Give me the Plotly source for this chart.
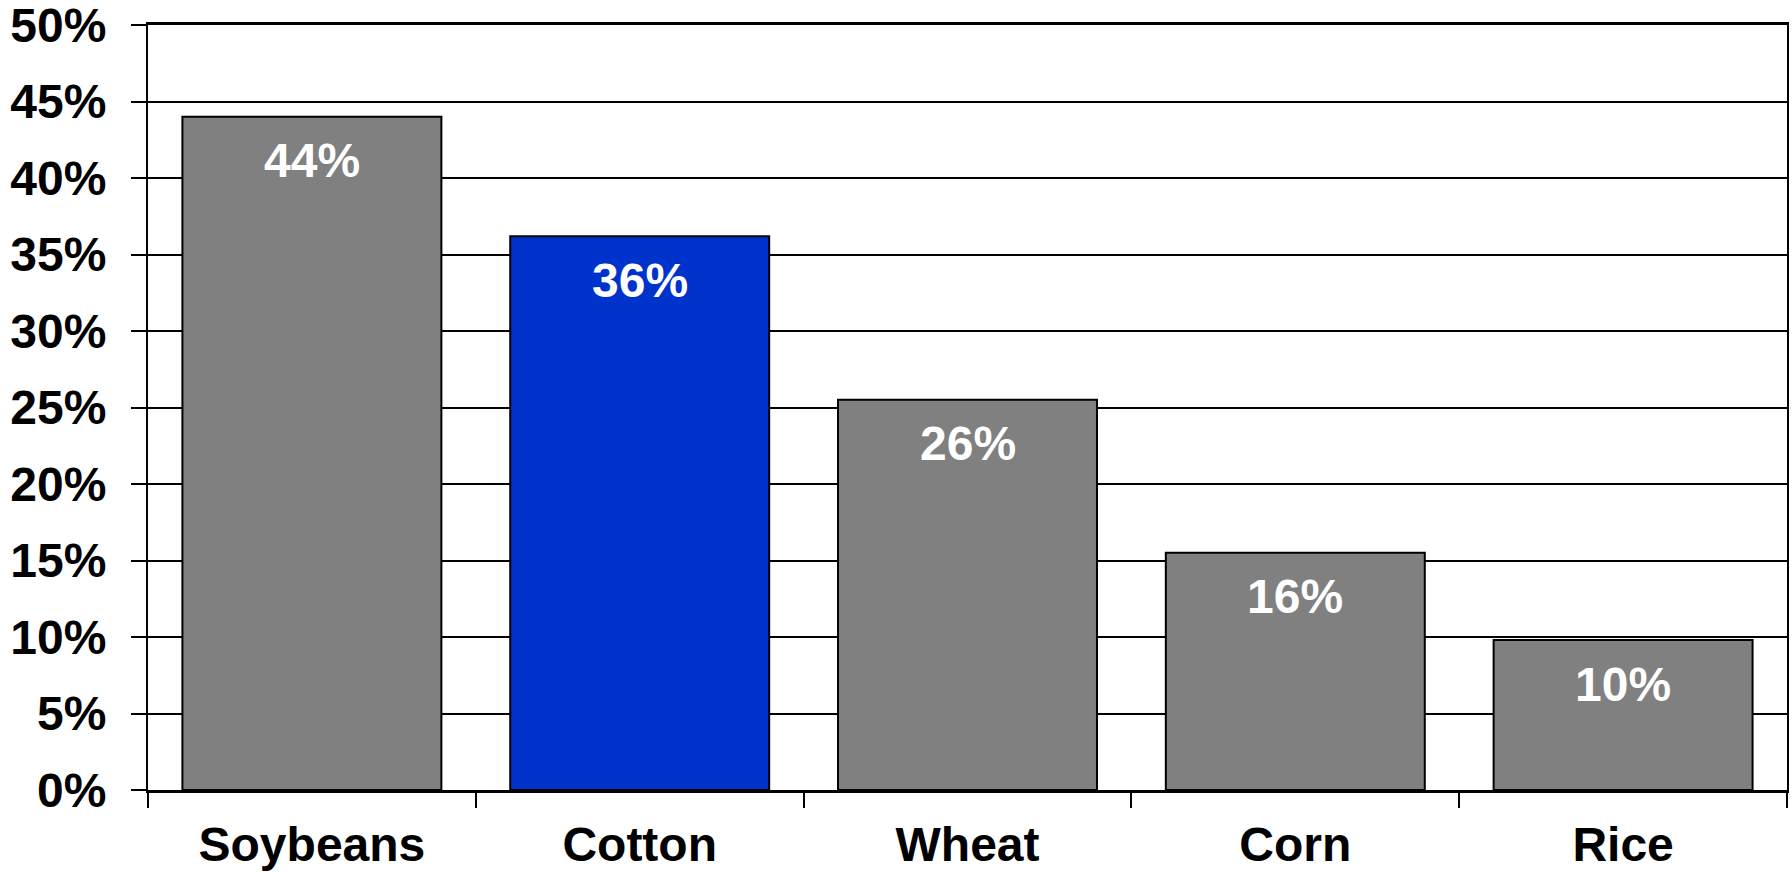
import plotly.graph_objects as go

# Share of acreage by crop (percent)
crops = ["Soybeans", "Cotton", "Wheat", "Corn", "Rice"]
shares = [44.0, 36.2, 25.5, 15.5, 9.8]
bar_colors = ["#808080", "#0033CC", "#808080", "#808080", "#808080"]
y_ticks = [0, 5, 10, 15, 20, 25, 30, 35, 40, 45, 50]

FONT = "Liberation Sans, Arial, Helvetica, sans-serif"
FSIZE = 48

fig = go.Figure(
    go.Bar(
        x=crops,
        y=shares,
        marker=dict(color=bar_colors, line=dict(color="black", width=2)),
        hoverinfo="skip",
    )
)

# Value labels sitting just inside the top of each bar
for crop, v in zip(crops, shares):
    fig.add_annotation(
        x=crop, y=v, yanchor="middle", yshift=-44,
        text=f"<b>{int(v + 0.5)}%</b>", showarrow=False,
        font=dict(family=FONT, size=FSIZE, color="white"),
    )

fig.update_layout(
    width=1792, height=872,
    margin=dict(l=148, r=5, t=25, b=82),
    paper_bgcolor="white", plot_bgcolor="white",
    bargap=0.21,
    showlegend=False,
    font=dict(family=FONT, size=FSIZE, color="black"),
)

fig.update_xaxes(
    type="category",
    automargin=False,
    tickson="boundaries",
    ticks="outside", ticklen=15, tickwidth=2, tickcolor="black",
    showline=True, linecolor="black", linewidth=3, mirror=True,
    showgrid=False,
    tickfont=dict(family=FONT, size=FSIZE, color="black", weight="bold"),
    ticklabelstandoff=10,
    ticklabeloverflow="allow",
)

fig.update_yaxes(
    range=[0, 50],
    automargin=False,
    tickvals=y_ticks,
    ticktext=[f"{t}%" for t in y_ticks],
    ticks="outside", ticklen=15, tickwidth=2, tickcolor="black",
    showline=True, linecolor="black", linewidth=2, mirror=True,
    showgrid=True, gridcolor="black", gridwidth=2,
    zeroline=False,
    tickfont=dict(family=FONT, size=FSIZE, color="black", weight="bold"),
    ticklabelstandoff=15,
    ticklabeloverflow="allow",
)

fig.write_html("out.html")
